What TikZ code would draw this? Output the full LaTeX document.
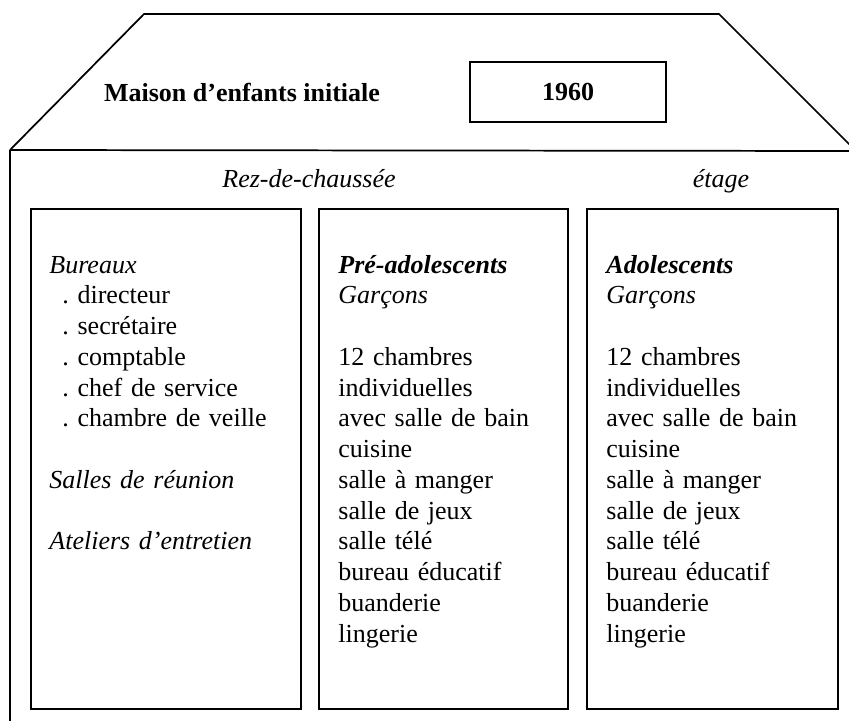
\documentclass[tikz,border=0pt]{standalone}
\usepackage{fontspec}
\setmainfont{Liberation Serif}
\usepackage{tikz}
\frenchspacing

\begin{document}
\begin{tikzpicture}[
  x=0.4615pt, y=-0.4615pt,
  trait/.style={line width=0.8pt, line join=miter},
  colbox/.style={draw, line width=0.9pt, anchor=north west, inner sep=0pt,
                 minimum height=500*0.4615pt},
  liste/.style={anchor=base west, inner sep=0pt, align=left, text width=125pt,
                font=\fontsize{12}{14.2}\selectfont\frenchspacing},
  niveau/.style={anchor=base, inner sep=0pt, font=\fontsize{12}{14.2}\selectfont\itshape},
  titre/.style={anchor=base, inner sep=0pt, font=\fontsize{12}{14.2}\selectfont\bfseries}
]
  \useasboundingbox (0,0) rectangle (849,720);
  \clip (0,0) rectangle (849,720);

  %------------------------------------------------------------
  %  ROOF AND WALL (coordinates in pixels)
  %------------------------------------------------------------
  \coordinate (toitG)  at (10,150);
  \coordinate (faiteG) at (144,14);
  \coordinate (faiteD) at (719,14);
  \coordinate (toitD)  at (856,151);
  \coordinate (murG)   at (10,740);

  \draw[trait] (toitG) -- (faiteG) -- (faiteD) -- (toitD);
  \draw[trait] (toitG) -- (toitD);
  \draw[trait] (toitG) -- (murG);

  %------------------------------------------------------------
  %  TITLE AND YEAR
  %------------------------------------------------------------
  \node[titre] (maison) at (242,101) {Maison d’enfants initiale};
  \node[draw, line width=0.9pt, inner sep=0pt, minimum width=196*0.4615pt,
        minimum height=60*0.4615pt, font=\fontsize{12}{14.2}\selectfont\bfseries]
        (annee) at (568,92) {1960};

  %------------------------------------------------------------
  %  LEVELS
  %------------------------------------------------------------
  \node[niveau] (rdc)   at (309,187) {Rez-de-chaussée};
  \node[niveau] (etage) at (721,187) {étage};

  %------------------------------------------------------------
  %  COLUMNS
  %------------------------------------------------------------
  \node[colbox, minimum width=270*0.4615pt] (bureaux) at (30,208)  {};
  \node[colbox, minimum width=249*0.4615pt] (preado)  at (318,208) {};
  \node[colbox, minimum width=251*0.4615pt] (ado)     at (586,208) {};

  \node[liste] (txtbureaux) at (49,273) {%
    \textit{Bureaux}\\
    \hspace*{6pt}. directeur\\
    \hspace*{6pt}. secrétaire\\
    \hspace*{6pt}. comptable\\
    \hspace*{6pt}. chef de service\\
    \hspace*{6pt}. chambre de veille\\[14.2pt]
    \textit{Salles de réunion}\\[14.2pt]
    \textit{Ateliers d’entretien}};

  \node[liste] (txtpreado) at (338,273) {%
    \textbf{\textit{Pré-adolescents}}\\
    \textit{Garçons}\\[14.2pt]
    12 chambres\\
    individuelles\\
    avec salle de bain\\
    cuisine\\
    salle à manger\\
    salle de jeux\\
    salle télé\\
    bureau éducatif\\
    buanderie\\
    lingerie};

  \node[liste] (txtado) at (606,273) {%
    \textbf{\textit{Adolescents}}\\
    \textit{Garçons}\\[14.2pt]
    12 chambres\\
    individuelles\\
    avec salle de bain\\
    cuisine\\
    salle à manger\\
    salle de jeux\\
    salle télé\\
    bureau éducatif\\
    buanderie\\
    lingerie};

\end{tikzpicture}
\end{document}
